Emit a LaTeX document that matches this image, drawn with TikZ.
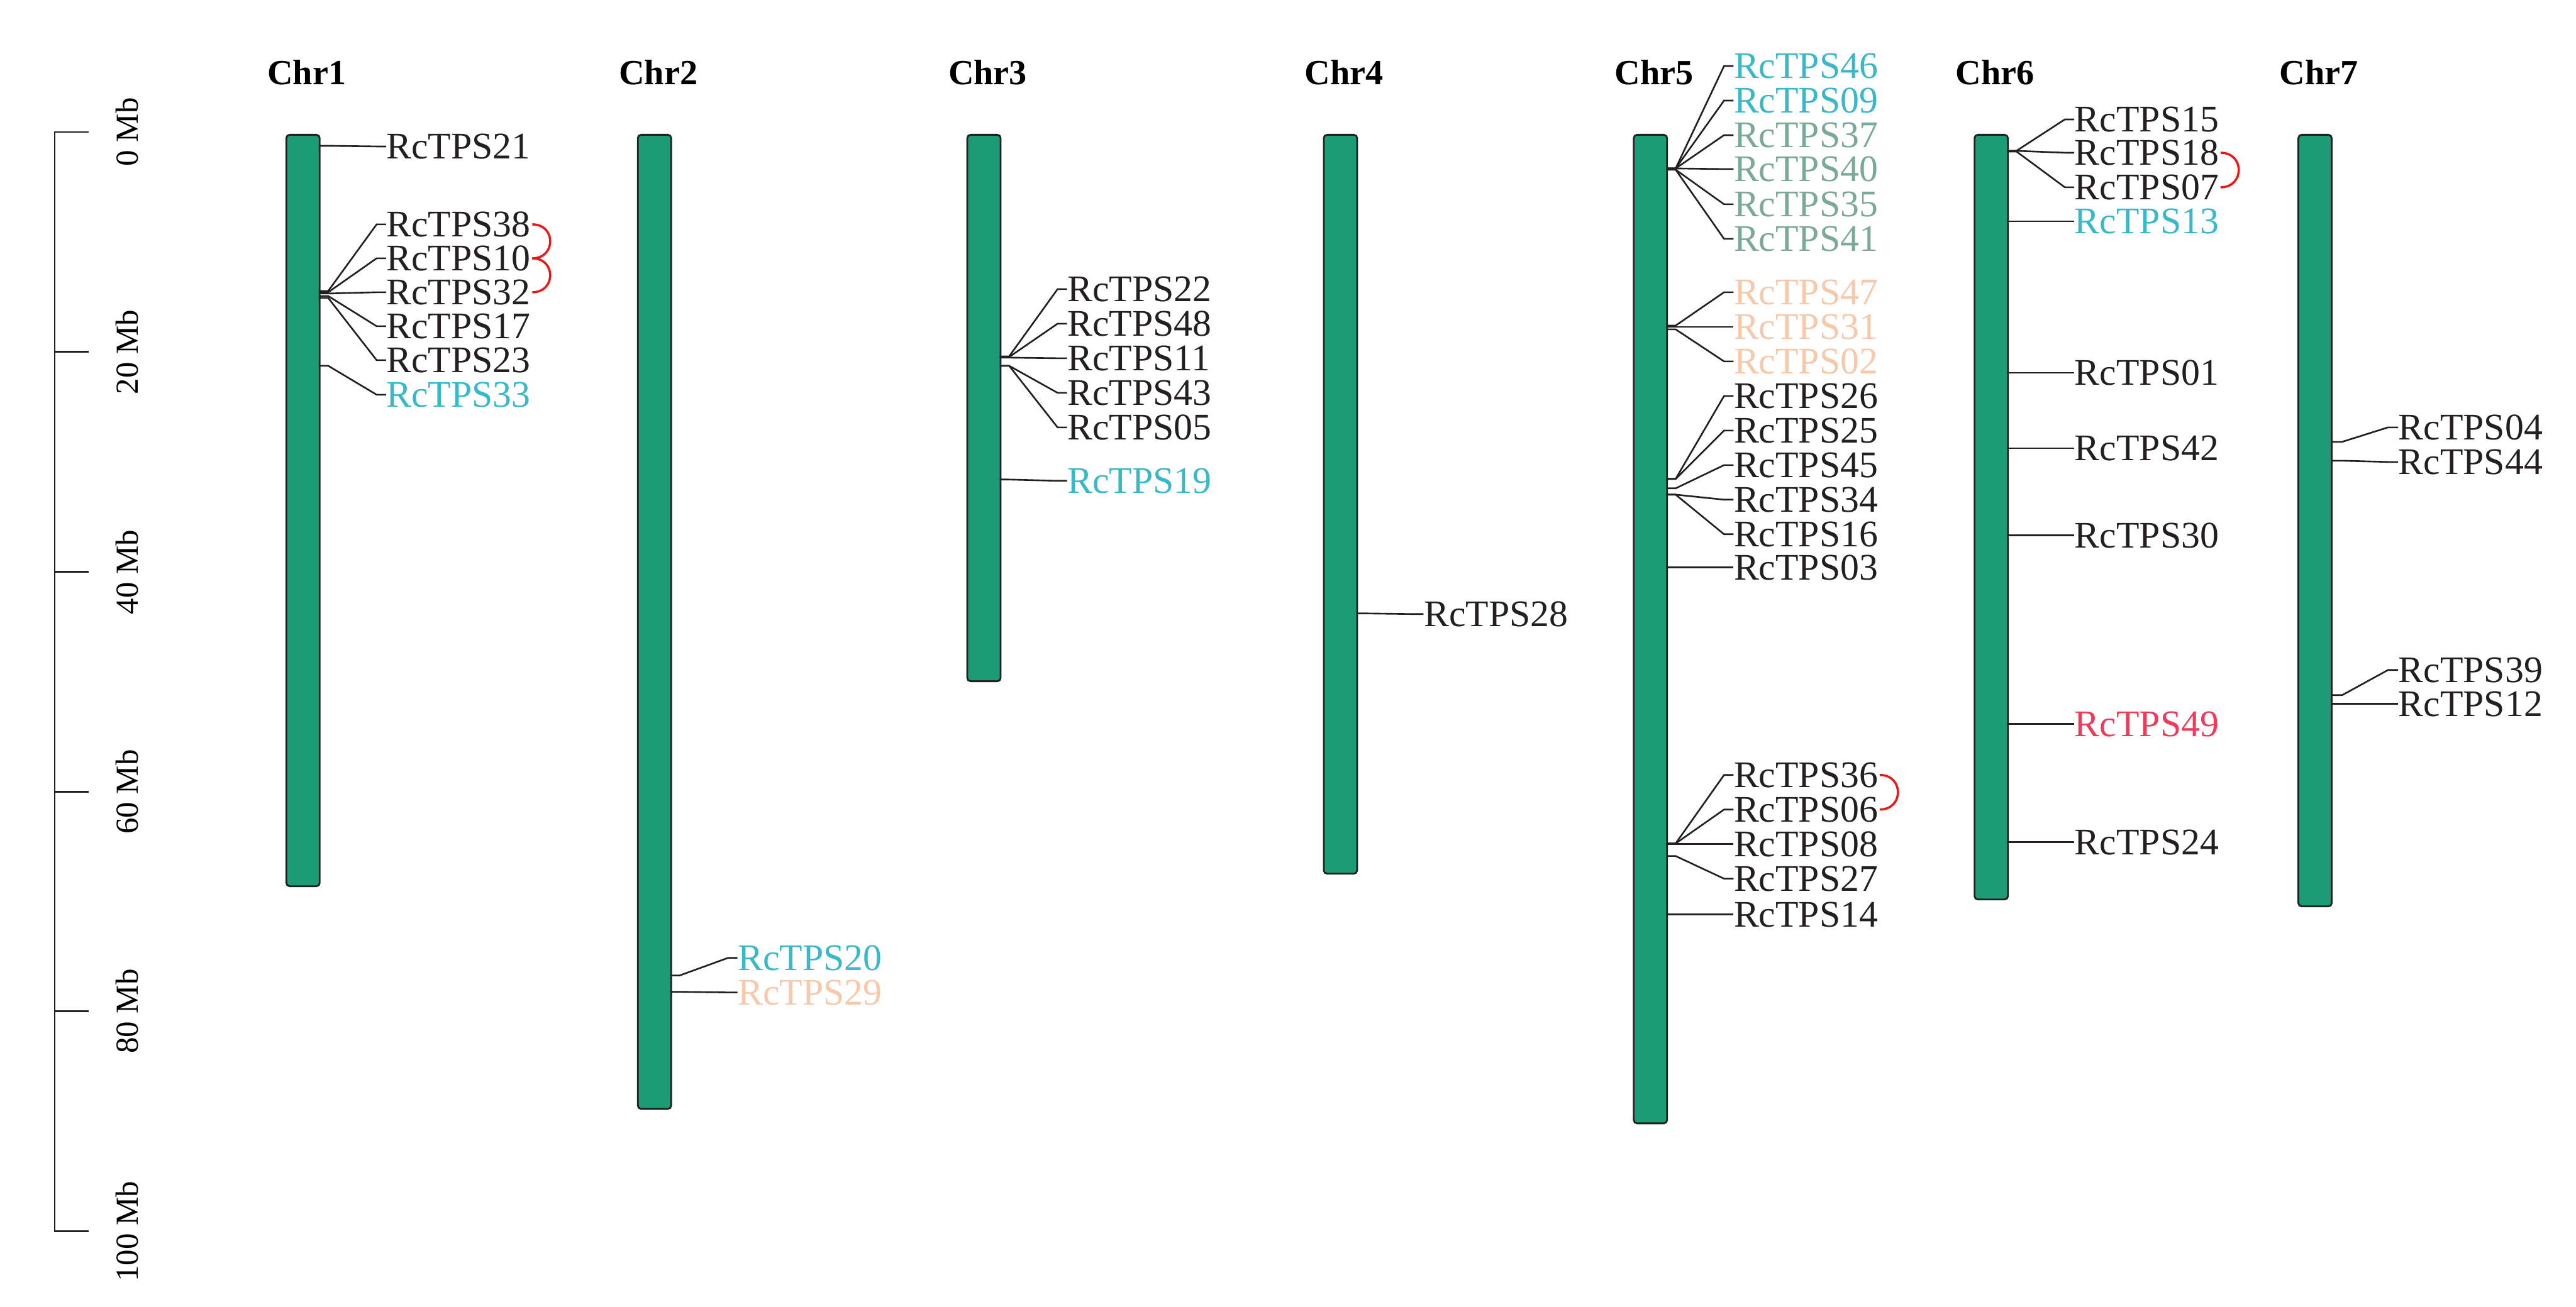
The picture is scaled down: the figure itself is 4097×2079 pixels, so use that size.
\documentclass[tikz,border=0pt]{standalone}
\usepackage{fontspec}
\setmainfont{Liberation Serif}
\usepackage{xcolor}
\usepackage{tikz}
\usetikzlibrary{positioning}

\definecolor{chrgreen}{RGB}{27,156,116}
\definecolor{inkblack}{RGB}{35,31,32}
\definecolor{tpscyan}{RGB}{56,184,201}
\definecolor{tpssage}{RGB}{122,170,150}
\definecolor{tpspeach}{RGB}{247,200,170}
\definecolor{tpsrose}{RGB}{240,58,92}
\definecolor{dupred}{RGB}{240,20,20}

\begin{document}
\begin{tikzpicture}[
	x=0.01cm, y=-0.01cm,
	chrom/.style={
		rectangle, draw=inkblack, fill=chrgreen, line width=0.8pt,
		rounded corners=1.5pt, minimum width=0.53cm, inner sep=0pt, anchor=north west
	},
	chrname/.style={font=\fontsize{16}{19}\selectfont\bfseries, inner sep=0pt},
	gene/.style={anchor=west, inner sep=0pt, font=\fontsize{17}{20}\selectfont, text=inkblack},
	link/.style={draw=inkblack, line width=0.75pt},
	dup/.style={draw=dupred, line width=1pt, out=0, in=0, looseness=1.8},
	axis/.style={draw=inkblack, line width=0.8pt},
	mb/.style={font=\fontsize{14.5}{17}\selectfont, rotate=90, inner sep=0pt}
	]
	\path[use as bounding box, fill=white] (0,0) rectangle (4097,2079);

	% scale bar
	\draw[axis] (141,210) -- (87,210) -- (87,1959) -- (141,1959);
	\draw[axis] (87,560) -- (141,560);
	\draw[axis] (87,910) -- (141,910);
	\draw[axis] (87,1260) -- (141,1260);
	\draw[axis] (87,1609) -- (141,1609);
	\node[mb] (mb0) at (202,210) {0 Mb};
	\node[mb] (mb20) at (202,560) {20 Mb};
	\node[mb] (mb40) at (202,910) {40 Mb};
	\node[mb] (mb60) at (202,1260) {60 Mb};
	\node[mb] (mb80) at (202,1609) {80 Mb};
	\node[mb] (mb100) at (202,1959) {100 Mb};

	% chromosomes
	\node[chrom, minimum height=11.95cm] (chr1) at (454,213) {};
	\node[chrom, minimum height=15.49cm] (chr2) at (1013,213) {};
	\node[chrom, minimum height=8.69cm] (chr3) at (1537,213) {};
	\node[chrom, minimum height=11.75cm] (chr4) at (2104,213) {};
	\node[chrom, minimum height=15.72cm] (chr5) at (2597,213) {};
	\node[chrom, minimum height=12.16cm] (chr6) at (3139,213) {};
	\node[chrom, minimum height=12.27cm] (chr7) at (3654,213) {};
	\node[chrname, above=0.77cm of chr1.north, xshift=0.06cm] (t1) {Chr1};
	\node[chrname, above=0.77cm of chr2.north, xshift=0.06cm] (t2) {Chr2};
	\node[chrname, above=0.77cm of chr3.north, xshift=0.06cm] (t3) {Chr3};
	\node[chrname, above=0.77cm of chr4.north, xshift=0.06cm] (t4) {Chr4};
	\node[chrname, above=0.77cm of chr5.north, xshift=0.06cm] (t5) {Chr5};
	\node[chrname, above=0.77cm of chr6.north, xshift=0.06cm] (t6) {Chr6};
	\node[chrname, above=0.77cm of chr7.north, xshift=0.06cm] (t7) {Chr7};

	% Chr1
	\coordinate (a21) at (507,232); \node[gene] (g21) at (614,233) {RcTPS21};
	\coordinate (a38) at (507,463); \node[gene] (g38) at (614,357) {RcTPS38};
	\coordinate (a10) at (507,465); \node[gene] (g10) at (614,411) {RcTPS10};
	\coordinate (a32) at (507,467); \node[gene] (g32) at (614,465) {RcTPS32};
	\coordinate (a17) at (507,471); \node[gene] (g17) at (614,519) {RcTPS17};
	\coordinate (a23) at (507,474); \node[gene] (g23) at (614,573) {RcTPS23};
	\coordinate (a33) at (507,582); \node[gene, text=tpscyan] (g33) at (614,628) {RcTPS33};
	\draw[link] (a21) -- ++(15,0) -- ([xshift=-0.15cm]g21.west) -- (g21.west);
	\draw[link] (a38) -- ++(15,0) -- ([xshift=-0.15cm]g38.west) -- (g38.west);
	\draw[link] (a10) -- ++(15,0) -- ([xshift=-0.15cm]g10.west) -- (g10.west);
	\draw[link] (a32) -- ++(15,0) -- ([xshift=-0.15cm]g32.west) -- (g32.west);
	\draw[link] (a17) -- ++(15,0) -- ([xshift=-0.15cm]g17.west) -- (g17.west);
	\draw[link] (a23) -- ++(15,0) -- ([xshift=-0.15cm]g23.west) -- (g23.west);
	\draw[link] (a33) -- ++(15,0) -- ([xshift=-0.15cm]g33.west) -- (g33.west);
	\draw[dup] ([xshift=0.02cm]g38.east) to ([xshift=0.02cm]g10.east);
	\draw[dup] ([xshift=0.02cm]g10.east) to ([xshift=0.02cm]g32.east);

	% Chr2
	\coordinate (a20) at (1066,1552); \node[gene, text=tpscyan] (g20) at (1173,1524) {RcTPS20};
	\coordinate (a29) at (1066,1578); \node[gene, text=tpspeach] (g29) at (1173,1579) {RcTPS29};
	\draw[link] (a20) -- ++(15,0) -- ([xshift=-0.15cm]g20.west) -- (g20.west);
	\draw[link] (a29) -- ++(15,0) -- ([xshift=-0.15cm]g29.west) -- (g29.west);

	% Chr3
	\coordinate (a22) at (1590,567); \node[gene] (g22) at (1697,460) {RcTPS22};
	\coordinate (a48) at (1590,568); \node[gene] (g48) at (1697,515) {RcTPS48};
	\coordinate (a11) at (1590,569); \node[gene] (g11) at (1697,570) {RcTPS11};
	\coordinate (a43) at (1590,582); \node[gene] (g43) at (1697,625) {RcTPS43};
	\coordinate (a05) at (1590,582); \node[gene] (g05) at (1697,680) {RcTPS05};
	\coordinate (a19) at (1590,763); \node[gene, text=tpscyan] (g19) at (1697,765) {RcTPS19};
	\draw[link] (a22) -- ++(15,0) -- ([xshift=-0.15cm]g22.west) -- (g22.west);
	\draw[link] (a48) -- ++(15,0) -- ([xshift=-0.15cm]g48.west) -- (g48.west);
	\draw[link] (a11) -- ++(15,0) -- ([xshift=-0.15cm]g11.west) -- (g11.west);
	\draw[link] (a43) -- ++(15,0) -- ([xshift=-0.15cm]g43.west) -- (g43.west);
	\draw[link] (a05) -- ++(15,0) -- ([xshift=-0.15cm]g05.west) -- (g05.west);
	\draw[link] (a19) -- ++(15,0) -- ([xshift=-0.15cm]g19.west) -- (g19.west);

	% Chr4
	\coordinate (a28) at (2157,976); \node[gene] (g28) at (2264,977) {RcTPS28};
	\draw[link] (a28) -- ++(15,0) -- ([xshift=-0.15cm]g28.west) -- (g28.west);

	% Chr5
	\coordinate (a46) at (2650,268); \node[gene, text=tpscyan] (g46) at (2757,105) {RcTPS46};
	\coordinate (a09) at (2650,268); \node[gene, text=tpscyan] (g09) at (2757,160) {RcTPS09};
	\coordinate (a37) at (2650,268); \node[gene, text=tpssage] (g37) at (2757,215) {RcTPS37};
	\coordinate (a40) at (2650,268); \node[gene, text=tpssage] (g40) at (2757,269) {RcTPS40};
	\coordinate (a35) at (2650,270); \node[gene, text=tpssage] (g35) at (2757,325) {RcTPS35};
	\coordinate (a41) at (2650,270); \node[gene, text=tpssage] (g41) at (2757,380) {RcTPS41};
	\coordinate (a47) at (2650,518); \node[gene, text=tpspeach] (g47) at (2757,465) {RcTPS47};
	\coordinate (a31) at (2650,520); \node[gene, text=tpspeach] (g31) at (2757,520) {RcTPS31};
	\coordinate (a02) at (2650,524); \node[gene, text=tpspeach] (g02) at (2757,575) {RcTPS02};
	\coordinate (a26) at (2650,762); \node[gene] (g26) at (2757,630) {RcTPS26};
	\coordinate (a25) at (2650,762); \node[gene] (g25) at (2757,685) {RcTPS25};
	\coordinate (a45) at (2650,777); \node[gene] (g45) at (2757,740) {RcTPS45};
	\coordinate (a34) at (2650,787); \node[gene] (g34) at (2757,795) {RcTPS34};
	\coordinate (a16) at (2650,787); \node[gene] (g16) at (2757,850) {RcTPS16};
	\coordinate (a03) at (2650,903); \node[gene] (g03) at (2757,903) {RcTPS03};
	\coordinate (a36) at (2650,1342); \node[gene] (g36) at (2757,1233) {RcTPS36};
	\coordinate (a06) at (2650,1342); \node[gene] (g06) at (2757,1288) {RcTPS06};
	\coordinate (a08) at (2650,1343); \node[gene] (g08) at (2757,1343) {RcTPS08};
	\coordinate (a27) at (2650,1362); \node[gene] (g27) at (2757,1398) {RcTPS27};
	\coordinate (a14) at (2650,1455); \node[gene] (g14) at (2757,1455) {RcTPS14};
	\draw[link] (a46) -- ++(15,0) -- ([xshift=-0.15cm]g46.west) -- (g46.west);
	\draw[link] (a09) -- ++(15,0) -- ([xshift=-0.15cm]g09.west) -- (g09.west);
	\draw[link] (a37) -- ++(15,0) -- ([xshift=-0.15cm]g37.west) -- (g37.west);
	\draw[link] (a40) -- ++(15,0) -- ([xshift=-0.15cm]g40.west) -- (g40.west);
	\draw[link] (a35) -- ++(15,0) -- ([xshift=-0.15cm]g35.west) -- (g35.west);
	\draw[link] (a41) -- ++(15,0) -- ([xshift=-0.15cm]g41.west) -- (g41.west);
	\draw[link] (a47) -- ++(15,0) -- ([xshift=-0.15cm]g47.west) -- (g47.west);
	\draw[link] (a31) -- ++(15,0) -- ([xshift=-0.15cm]g31.west) -- (g31.west);
	\draw[link] (a02) -- ++(15,0) -- ([xshift=-0.15cm]g02.west) -- (g02.west);
	\draw[link] (a26) -- ++(15,0) -- ([xshift=-0.15cm]g26.west) -- (g26.west);
	\draw[link] (a25) -- ++(15,0) -- ([xshift=-0.15cm]g25.west) -- (g25.west);
	\draw[link] (a45) -- ++(15,0) -- ([xshift=-0.15cm]g45.west) -- (g45.west);
	\draw[link] (a34) -- ++(15,0) -- ([xshift=-0.15cm]g34.west) -- (g34.west);
	\draw[link] (a16) -- ++(15,0) -- ([xshift=-0.15cm]g16.west) -- (g16.west);
	\draw[link] (a03) -- ++(15,0) -- ([xshift=-0.15cm]g03.west) -- (g03.west);
	\draw[link] (a36) -- ++(15,0) -- ([xshift=-0.15cm]g36.west) -- (g36.west);
	\draw[link] (a06) -- ++(15,0) -- ([xshift=-0.15cm]g06.west) -- (g06.west);
	\draw[link] (a08) -- ++(15,0) -- ([xshift=-0.15cm]g08.west) -- (g08.west);
	\draw[link] (a27) -- ++(15,0) -- ([xshift=-0.15cm]g27.west) -- (g27.west);
	\draw[link] (a14) -- ++(15,0) -- ([xshift=-0.15cm]g14.west) -- (g14.west);
	\draw[dup] ([xshift=0.02cm]g36.east) to ([xshift=0.02cm]g06.east);

	% Chr6
	\coordinate (a15) at (3192,240); \node[gene] (g15) at (3299,190) {RcTPS15};
	\coordinate (a18) at (3192,240); \node[gene] (g18) at (3299,243) {RcTPS18};
	\coordinate (a07) at (3192,241); \node[gene] (g07) at (3299,298) {RcTPS07};
	\coordinate (a13) at (3192,352); \node[gene, text=tpscyan] (g13) at (3299,352) {RcTPS13};
	\coordinate (a01) at (3192,593); \node[gene] (g01) at (3299,593) {RcTPS01};
	\coordinate (a42) at (3192,713); \node[gene] (g42) at (3299,713) {RcTPS42};
	\coordinate (a30) at (3192,852); \node[gene] (g30) at (3299,852) {RcTPS30};
	\coordinate (a49) at (3192,1152); \node[gene, text=tpsrose] (g49) at (3299,1152) {RcTPS49};
	\coordinate (a24) at (3192,1340); \node[gene] (g24) at (3299,1340) {RcTPS24};
	\draw[link] (a15) -- ++(15,0) -- ([xshift=-0.15cm]g15.west) -- (g15.west);
	\draw[link] (a18) -- ++(15,0) -- ([xshift=-0.15cm]g18.west) -- (g18.west);
	\draw[link] (a07) -- ++(15,0) -- ([xshift=-0.15cm]g07.west) -- (g07.west);
	\draw[link] (a13) -- ++(15,0) -- ([xshift=-0.15cm]g13.west) -- (g13.west);
	\draw[link] (a01) -- ++(15,0) -- ([xshift=-0.15cm]g01.west) -- (g01.west);
	\draw[link] (a42) -- ++(15,0) -- ([xshift=-0.15cm]g42.west) -- (g42.west);
	\draw[link] (a30) -- ++(15,0) -- ([xshift=-0.15cm]g30.west) -- (g30.west);
	\draw[link] (a49) -- ++(15,0) -- ([xshift=-0.15cm]g49.west) -- (g49.west);
	\draw[link] (a24) -- ++(15,0) -- ([xshift=-0.15cm]g24.west) -- (g24.west);
	\draw[dup] ([xshift=0.02cm]g18.east) to ([xshift=0.02cm]g07.east);

	% Chr7
	\coordinate (a04) at (3707,703); \node[gene] (g04) at (3814,680) {RcTPS04};
	\coordinate (a44) at (3707,733); \node[gene] (g44) at (3814,735) {RcTPS44};
	\coordinate (a39) at (3707,1106); \node[gene] (g39) at (3814,1066) {RcTPS39};
	\coordinate (a12) at (3707,1120); \node[gene] (g12) at (3814,1120) {RcTPS12};
	\draw[link] (a04) -- ++(18,0) -- ([xshift=-0.16cm]g04.west) -- (g04.west);
	\draw[link] (a44) -- ++(18,0) -- ([xshift=-0.16cm]g44.west) -- (g44.west);
	\draw[link] (a39) -- ++(18,0) -- ([xshift=-0.16cm]g39.west) -- (g39.west);
	\draw[link] (a12) -- ++(18,0) -- ([xshift=-0.16cm]g12.west) -- (g12.west);
\end{tikzpicture}
\end{document}
